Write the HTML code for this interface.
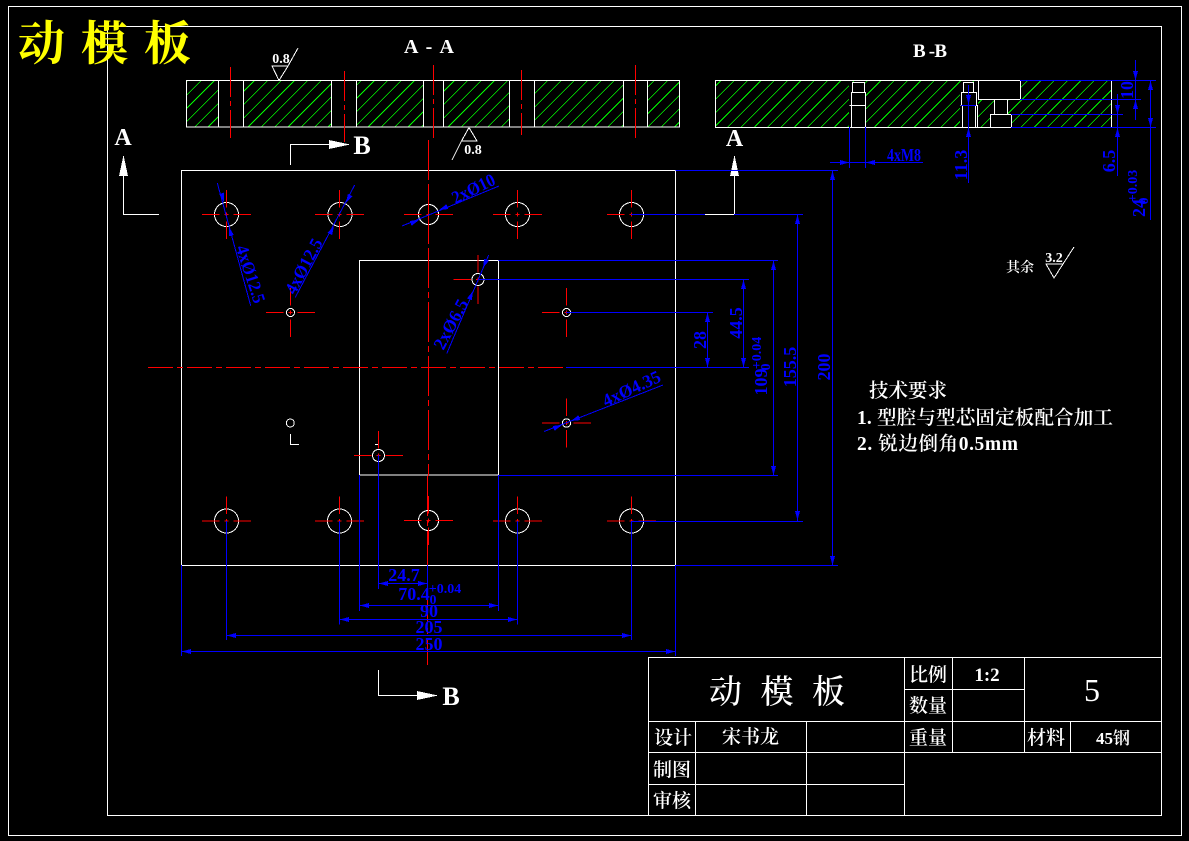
<!DOCTYPE html>
<html><head><meta charset="utf-8"><title>动模板</title>
<style>
html,body{margin:0;padding:0;background:#000;width:1189px;height:841px;overflow:hidden}
svg{display:block;shape-rendering:crispEdges}
.w{stroke:#fff;fill:none;stroke-width:1}
.b{stroke:#0000ff;fill:none;stroke-width:1}
.r{stroke:#ff0000;fill:none;stroke-width:1}
.c{stroke:#ff0000;fill:none;stroke-width:1;stroke-dasharray:25 4 6 4}
text{font-family:"Liberation Serif","Noto Serif CJK SC",serif}
.td{fill:#0000ff;font-size:18px;font-weight:700;text-anchor:middle}
.ts{fill:#0000ff;font-size:14px;font-weight:700;text-anchor:middle}
.tw{fill:#fff;text-anchor:middle}
.cn{font-family:"Liberation Serif","Noto Serif CJK SC",serif;fill:#fff;font-weight:600}
</style></head><body>
<svg width="1189" height="841" viewBox="0 0 1189 841" xmlns="http://www.w3.org/2000/svg">
<defs>
<clipPath id="sec"><rect x="186" y="80" width="494" height="47"/><rect x="715" y="80" width="396" height="47"/></clipPath>
<g id="a"><polygon points="0,0 -9,-2.6 -9,2.6" fill="#0000ff"/></g>
<g id="x"><path d="M-24.5 0H-7M-2 0H2M7 0H24.5M0 -24.5V-7M0 -2V2M0 7V24.5" stroke="#f00" stroke-width="1" fill="none"/></g>
</defs>
<rect width="1189" height="841" fill="#000"/>
<rect x="8.5" y="6.5" width="1173" height="829" class="w"/>
<rect x="107.5" y="26.5" width="1054" height="789" class="w"/>
<text x="18" y="60" font-size="47" font-weight="700" fill="#ffff00" textLength="173" lengthAdjust="spacing" style="font-family:'Noto Serif CJK SC',serif">动模板</text>

<!-- Hatching -->
<path clip-path="url(#sec)" fill="none" stroke="#00ff00" stroke-width="0.8" d="M188.35 80l-47 47m60.33-47l-47 47m60.33-47l-47 47m60.33-47l-47 47m60.33-47l-47 47m60.33-47l-47 47m60.33-47l-47 47m60.33-47l-47 47m60.33-47l-47 47m60.33-47l-47 47m60.33-47l-47 47m60.33-47l-47 47m60.33-47l-47 47m60.33-47l-47 47m60.33-47l-47 47m60.33-47l-47 47m60.33-47l-47 47m60.33-47l-47 47m60.33-47l-47 47m60.33-47l-47 47m60.33-47l-47 47m60.33-47l-47 47m60.33-47l-47 47m60.33-47l-47 47m60.33-47l-47 47m60.33-47l-47 47m60.33-47l-47 47m60.33-47l-47 47m60.33-47l-47 47m60.33-47l-47 47m60.33-47l-47 47m60.33-47l-47 47m60.33-47l-47 47m60.33-47l-47 47m60.33-47l-47 47m60.33-47l-47 47m60.33-47l-47 47m60.33-47l-47 47m60.33-47l-47 47m60.33-47l-47 47m60.33-47l-47 47m60.33-47l-47 47m60.33-47l-47 47m60.33-47l-47 47m60.33-47l-47 47m60.33-47l-47 47m60.33-47l-47 47m60.33-47l-47 47m60.33-47l-47 47m60.33-47l-47 47m60.33-47l-47 47m60.33-47l-47 47m60.33-47l-47 47m60.33-47l-47 47m60.33-47l-47 47m60.33-47l-47 47m60.33-47l-47 47m60.33-47l-47 47m60.33-47l-47 47m60.33-47l-47 47m60.33-47l-47 47m60.33-47l-47 47m60.33-47l-47 47m60.33-47l-47 47m60.33-47l-47 47m60.33-47l-47 47m60.33-47l-47 47m60.33-47l-47 47m60.33-47l-47 47m60.33-47l-47 47m60.33-47l-47 47m60.33-47l-47 47m60.33-47l-47 47m60.33-47l-47 47"/>

<!-- Section A-A -->
<text x="404" y="53" fill="#fff" font-size="20" font-weight="700" textLength="50" xml:space="preserve">A - A</text>
<path d="M218 81h25v46h-25zM331 81h25v46h-25zM423 81h20v46h-20zM509 81h25v46h-25zM623 81h24v46h-24z" fill="#000"/>
<rect x="186.5" y="80.5" width="493" height="46.5" class="w"/>
<path d="M218.5 80.5V127M243.5 80.5V127M331.5 80.5V127M356.5 80.5V127M423.5 80.5V127M443.5 80.5V127M509.5 80.5V127M534.5 80.5V127M623.5 80.5V127M647.5 80.5V127" class="w"/>
<path d="M230.5 67V138M344.5 71V142M433.5 65V141M521.5 70V135M635.5 65V140" class="r" style="stroke-dasharray:30 4 5 4"/>
<path d="M272 66H288L279 80.5ZM288 66L298 48" class="w"/>
<text x="281" y="63" class="tw" font-size="14" font-weight="700">0.8</text>
<path d="M469 127.5L461.5 141H477ZM461.5 141L452 160" class="w"/>
<text x="473" y="154" class="tw" font-size="14" font-weight="700">0.8</text>

<!-- Section B-B -->
<text x="913" y="57" fill="#fff" font-size="19" font-weight="700" textLength="34" xml:space="preserve">B -B</text>
<path d="M849 82h16v45h-16zM960 82h18v45h-18zM978 80h42v19h-42zM994 99h13v15h-13zM990 114h21v13h-21z" fill="#000"/>
<path d="M1111.5 80.5H715.5V127.5H1111.5V80.5" class="w"/>
<path d="M852.5 82.5H864.5V92.5H852.5ZM851.5 92.5H865.5V105.5H851.5ZM849.5 105.5H865.5V127M851.5 105V127" class="w"/>
<path d="M963.5 82.5H973.5V92.5H963.5ZM961.5 92.5H976.5V105.5H961.5ZM960.5 105.5H977.5V127M962.5 105V127M975.5 105V127" class="w"/>
<path d="M978.5 80.5H1020.5V99.5H978.5ZM994.5 99.5H1007.5V114.5H994.5ZM990.5 114.5H1011.5V127.5H990.5Z" class="w"/>
<path d="M1020 80.5H1156M1020 99.5H1141M1011 114.5H1123M1011 127.5H1156M1135.5 60V120M1117.5 94V176M968.5 85V183M961 105.5H976M1150.5 80V220M830 162.5H923M849.5 127V168M865.5 127V168" class="b"/>
<use href="#a" transform="translate(1135.5 80) rotate(90)"/>
<use href="#a" transform="translate(1135.5 100) rotate(-90)"/>
<use href="#a" transform="translate(1117.5 114) rotate(90)"/>
<use href="#a" transform="translate(1117.5 128) rotate(-90)"/>
<use href="#a" transform="translate(968.5 104) rotate(90)"/>
<use href="#a" transform="translate(968.5 128) rotate(-90)"/>
<use href="#a" transform="translate(1150.5 81) rotate(-90)"/>
<use href="#a" transform="translate(1150.5 127) rotate(90)"/>
<use href="#a" transform="translate(849 162.5)"/>
<use href="#a" transform="translate(866 162.5) rotate(180)"/>
<text class="td" x="904" y="161" textLength="34" lengthAdjust="spacingAndGlyphs">4xM8</text>
<text class="td" transform="translate(1133 90) rotate(-90)">10</text>
<text class="td" transform="translate(1115 161) rotate(-90)">6.5</text>
<text class="td" transform="translate(967 165) rotate(-90)">11.3</text>
<text class="td" transform="translate(1145 208) rotate(-90)">24</text>
<text class="ts" transform="translate(1137 186) rotate(-90)">+0.03</text>
<text class="ts" transform="translate(1148 201) rotate(-90)">0</text>

<!-- Section arrows -->
<text x="123" y="145" class="tw" font-size="24" font-weight="700">A</text>
<path d="M159 214.5H123.5V176" class="w"/>
<polygon points="123.5,155 119,176 128,176" fill="#fff"/>
<text x="734.5" y="146" class="tw" font-size="24" font-weight="700">A</text>
<path d="M705 214.5H734.5V176" class="w"/>
<polygon points="734.5,155 730,176 739,176" fill="#fff"/>
<path d="M290.5 165V144.5H330" class="w"/>
<polygon points="350,144.5 329,140 329,149" fill="#fff"/>
<text x="362" y="154" class="tw" font-size="26" font-weight="700">B</text>
<path d="M378.5 670V695.5H418" class="w"/>
<polygon points="438,695.5 417,691 417,700" fill="#fff"/>
<text x="451" y="705" class="tw" font-size="26" font-weight="700">B</text>

<!-- Plan view -->
<rect x="181.5" y="170.5" width="494" height="395" class="w"/>
<rect x="359.5" y="260.5" width="139" height="214.5" class="w"/>
<path d="M428.5 140V476M427.5 476V665" class="r" style="stroke-dasharray:40 4 6 4"/>
<path d="M148 367.5H566" class="c"/>
<g class="w">
<circle cx="226.5" cy="214.5" r="12"/><circle cx="340" cy="214.5" r="12"/><circle cx="428.5" cy="214.5" r="10"/><circle cx="517.5" cy="214.5" r="12"/><circle cx="631.5" cy="214.5" r="12"/>
<circle cx="226.5" cy="521" r="12"/><circle cx="339.5" cy="521" r="12"/><circle cx="428.5" cy="520.5" r="10"/><circle cx="517.5" cy="521" r="12"/><circle cx="631.5" cy="521" r="12"/>
<circle cx="290.5" cy="312.5" r="4"/><circle cx="566.5" cy="312.5" r="4"/><circle cx="566.5" cy="423" r="4.2"/><circle cx="478" cy="279.5" r="6"/><circle cx="378.5" cy="455.5" r="6"/>
<circle cx="290.3" cy="423" r="4"/>
<path d="M290.5 434V444.5H299M375 444.5H378.5"/>
</g>
<use href="#x" x="226.5" y="214.5"/><use href="#x" x="339.5" y="214.5"/><use href="#x" x="428.5" y="214.5"/><use href="#x" x="517.5" y="214.5"/><use href="#x" x="631.5" y="214.5"/>
<use href="#x" x="226.5" y="521"/><use href="#x" x="339.5" y="521"/><use href="#x" x="428.5" y="520.5"/><use href="#x" x="517.5" y="521"/><use href="#x" x="631.5" y="521"/>
<use href="#x" x="290.5" y="312.5"/><use href="#x" x="566.5" y="312.5"/><use href="#x" x="566.5" y="423"/><use href="#x" x="478" y="279.5"/><use href="#x" x="378.5" y="455.5"/>

<!-- Dimensions right -->
<path d="M631 214.5H705M734 214.5H803M675.5 170.5H838M675.5 565.5H838M498.5 260.5H778M498.5 475.5H778M478 279.5H749M566 312.5H713M566 367.5H749M631.5 521.5H803" class="b"/>
<path d="M832.5 170.5V565.5M797.5 214.5V521M773.5 260.5V475.5M743.5 279.5V367.5M707.5 312.5V367.5" class="b"/>
<use href="#a" transform="translate(832.5 171) rotate(-90)"/><use href="#a" transform="translate(832.5 565) rotate(90)"/>
<use href="#a" transform="translate(797.5 215) rotate(-90)"/><use href="#a" transform="translate(797.5 520) rotate(90)"/>
<use href="#a" transform="translate(773.5 261) rotate(-90)"/><use href="#a" transform="translate(773.5 475) rotate(90)"/>
<use href="#a" transform="translate(743.5 280) rotate(-90)"/><use href="#a" transform="translate(743.5 367) rotate(90)"/>
<use href="#a" transform="translate(707.5 313) rotate(-90)"/><use href="#a" transform="translate(707.5 367) rotate(90)"/>
<text class="td" transform="translate(830 367) rotate(-90)">200</text>
<text class="td" transform="translate(796 367) rotate(-90)">155.5</text>
<text class="td" transform="translate(742 323) rotate(-90)">44.5</text>
<text class="td" transform="translate(706 340) rotate(-90)">28</text>
<text class="td" transform="translate(767 382) rotate(-90)">109</text>
<text class="ts" transform="translate(761 353) rotate(-90)">+0.04</text>
<text class="ts" transform="translate(770 367) rotate(-90)">0</text>

<!-- Dimensions bottom -->
<path d="M226.5 521V640M339.5 521V624.5M517.5 521V624.5M631.5 521V640M359.5 475V611M498.5 475V611M378.5 455V589M181.5 565V656M675.5 565V656M427.5 565V590" class="b"/>
<path d="M378.5 583.5H427.5M359.5 605.5H498.5M339.5 619.5H517.5M226.5 635.5H631.5M181.5 651.5H675.5" class="b"/>
<use href="#a" transform="translate(379 583.5) rotate(180)"/>
<use href="#a" transform="translate(427 583.5)"/>
<use href="#a" transform="translate(360 605.5) rotate(180)"/><use href="#a" transform="translate(498 605.5)"/>
<use href="#a" transform="translate(340 619.5) rotate(180)"/><use href="#a" transform="translate(517 619.5)"/>
<use href="#a" transform="translate(227 635.5) rotate(180)"/><use href="#a" transform="translate(631 635.5)"/>
<use href="#a" transform="translate(182 651.5) rotate(180)"/><use href="#a" transform="translate(675 651.5)"/>
<text class="td" x="404" y="581">24.7</text>
<text class="td" x="414" y="600">70.4</text>
<text class="ts" x="445" y="593">+0.04</text>
<text class="ts" x="433" y="604">0</text>
<text class="td" x="429" y="617">90</text>
<text class="td" x="429" y="633">205</text>
<text class="td" x="429" y="650">250</text>

<!-- Leaders -->
<path d="M217.3 183L250.7 305.7M354.7 185L295.3 297.3M402 226L499 186M488.7 255L446.7 353.7M544 431.5L663 385" class="b"/>
<use href="#a" transform="translate(224 202) rotate(75)"/><use href="#a" transform="translate(229 227) rotate(-105)"/>
<use href="#a" transform="translate(346 203) rotate(118)"/><use href="#a" transform="translate(334 226) rotate(-62)"/>
<use href="#a" transform="translate(419 220) rotate(-22)"/><use href="#a" transform="translate(439 210) rotate(158)"/>
<use href="#a" transform="translate(483 268) rotate(113)"/><use href="#a" transform="translate(473 291) rotate(-67)"/>
<use href="#a" transform="translate(562 425) rotate(-22)"/><use href="#a" transform="translate(571 421) rotate(158)"/>
<text class="td" transform="translate(245 276) rotate(72)" textLength="60" lengthAdjust="spacingAndGlyphs">4xØ12.5</text>
<text class="td" transform="translate(309 269) rotate(-62)" textLength="60" lengthAdjust="spacingAndGlyphs">4xØ12.5</text>
<text class="td" transform="translate(476 194) rotate(-26)" textLength="46" lengthAdjust="spacingAndGlyphs">2xØ10</text>
<text class="td" transform="translate(456 327) rotate(-62)" textLength="54" lengthAdjust="spacingAndGlyphs">2xØ6.5</text>
<text class="td" transform="translate(634 394) rotate(-25)" textLength="62" lengthAdjust="spacingAndGlyphs">4xØ4.35</text>

<!-- Notes -->
<text class="cn" x="1006" y="272" font-size="14">其余</text>
<path d="M1046 264H1063L1054 278ZM1063 264L1074 247" class="w"/>
<text x="1054" y="262" class="tw" font-size="14" font-weight="700">3.2</text>
<text class="cn" x="869" y="397" font-size="19.5">技术要求</text>
<text class="cn" x="857" y="424" font-size="19.5" textLength="256">1. 型腔与型芯固定板配合加工</text>
<text class="cn" x="857" y="450" font-size="19.5" textLength="161">2. 锐边倒角0.5mm</text>

<!-- Title block -->
<path d="M648.5 657.5H1161.5V815.5H648.5ZM904.5 689.5H1024M648.5 721.5H1161.5M648.5 752.5H1161.5M648.5 784.5H904.5M904.5 657.5V815.5M952.5 657.5V752.5M1024.5 657.5V752.5M1070.5 721.5V752.5M695.5 721.5V815.5M806.5 721.5V815.5" class="w"/>
<text class="cn" x="709" y="703" font-size="33" textLength="136" style="font-weight:500">动模板</text>
<text class="cn" x="909" y="681" font-size="19">比例</text>
<text class="tw" x="987" y="681" font-size="19" font-weight="700">1:2</text>
<text class="tw" x="1092" y="701" font-size="32">5</text>
<text class="cn" x="909" y="712" font-size="19">数量</text>
<text class="cn" x="909" y="744" font-size="19">重量</text>
<text class="cn" x="1027" y="744" font-size="19">材料</text>
<text class="cn" x="1096" y="744" font-size="17">45钢</text>
<text class="cn" x="654" y="744" font-size="19">设计</text>
<text class="cn" x="722" y="743" font-size="19">宋书龙</text>
<text class="cn" x="653" y="776" font-size="19">制图</text>
<text class="cn" x="653" y="807" font-size="19">审核</text>
</svg>
</body></html>
